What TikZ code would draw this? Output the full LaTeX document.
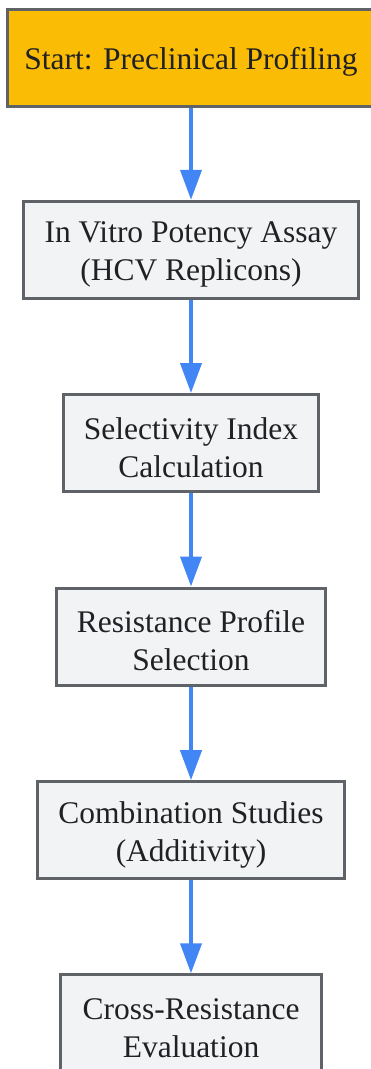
\documentclass[tikz,border=0pt]{standalone}
\usepackage{fontspec}
\setmainfont{Liberation Serif}
\usetikzlibrary{arrows.meta}
\definecolor{startfill}{HTML}{FBBC05}
\definecolor{boxfill}{HTML}{F1F3F4}
\definecolor{boxline}{HTML}{5F6368}
\definecolor{arrowblue}{HTML}{4285F4}
\definecolor{txt}{HTML}{202124}
\begin{document}
\begin{tikzpicture}[x=1pt,y=-1pt,
  stepbox/.style={draw=boxline, fill=boxfill, line width=3pt, inner sep=0pt,
    minimum height=97pt},
  startbox/.style={stepbox, fill=startfill},
  label/.style={align=center, text=txt, inner sep=0pt, yshift=-4.5pt,
    font=\fontsize{31.5pt}{38pt}\selectfont},
  flow/.style={draw=arrowblue, line width=4pt,
    -{Triangle[width=21pt,length=30pt]}}]
\useasboundingbox (0,0) rectangle (370,1069);
\node[startbox, minimum width=367pt] (n1) at (191,57.5) {};
\node[stepbox, minimum width=335pt] (n2) at (191,249.8) {};
\node[stepbox, minimum width=255pt] (n3) at (191,443) {};
\node[stepbox, minimum width=269pt] (n4) at (191,636.5) {};
\node[stepbox, minimum width=307pt] (n5) at (191,830.2) {};
\node[stepbox, minimum width=261pt] (n6) at (191,1023.3) {};
\node[label] (t1) at (n1.center) {Start: Preclinical Profiling};
\node[label] (t2) at (n2.center) {In Vitro Potency Assay\\(HCV Replicons)};
\node[label] (t3) at (n3.center) {Selectivity Index\\Calculation};
\node[label] (t4) at (n4.center) {Resistance Profile\\Selection};
\node[label] (t5) at (n5.center) {Combination Studies\\(Additivity)};
\node[label] (t6) at (n6.center) {Cross-Resistance\\Evaluation};
\draw[flow] (n1.south) -- (n2.north);
\draw[flow] (n2.south) -- (n3.north);
\draw[flow] (n3.south) -- (n4.north);
\draw[flow] (n4.south) -- (n5.north);
\draw[flow] (n5.south) -- (n6.north);
\end{tikzpicture}
\end{document}
